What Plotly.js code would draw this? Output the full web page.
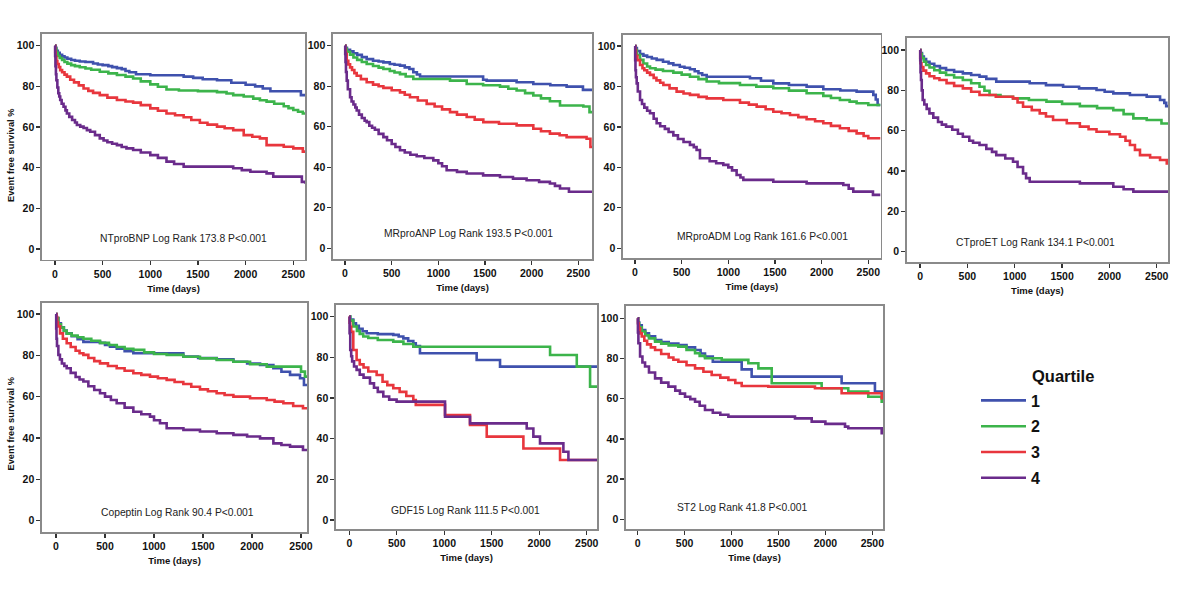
<!DOCTYPE html>
<html><head><meta charset="utf-8">
<script src="https://cdn.plot.ly/plotly-3.0.1.min.js"></script>
<style>html,body{margin:0;padding:0;background:#fff}#chart{width:1200px;height:595px}</style>
</head><body><div id="chart"></div>
<script>
// ---------- data (days, event free survival %) ----------
const markers = ["NTproBNP","MRproANP","MRproADM","CTproET","Copeptin","GDF15","ST2"];
const logRank = ["173.8","193.5","161.6","134.1","90.4","111.5","41.8"];
const pValue = "P<0.001";
const quartiles = ["1","2","3","4"];
const xTicks = [0,500,1000,1500,2000,2500];
const yTicks = [0,20,40,60,80,100];

// NTproBNP
const ntprobnp_q1_t = [0,5,15,30,50,75,100,130,170,210,260,320,400,450,500,560,600,650,700,740,780,850,1000,1350,1450,1550,1700,1850,2000,2100,2180,2260,2580,2630];
const ntprobnp_q1_s = [100,99,97.5,96.5,95.5,94.8,94.2,93.6,93,92.6,92.3,92,91.3,90.8,90.5,90,89.5,89,88.5,87.6,87,86,85.5,84.8,84.2,83.5,83,81.8,80.8,80,79,77.6,75.7,75.7];
const ntprobnp_q2_t = [0,5,15,30,50,75,100,130,170,210,260,320,380,470,560,650,740,820,900,1000,1080,1170,1300,1500,1700,1800,1870,1980,2080,2150,2220,2300,2400,2450,2500,2550,2600,2630];
const ntprobnp_q2_s = [100,98.5,96.5,95,94,93,92,91.2,90.5,90,89.4,88.8,88.2,87.2,86.4,85.6,84.8,83.9,82.5,81,79.8,78.5,78,77.7,77.2,76.5,75.7,75,74,73.2,72.5,71.5,70.2,69.3,68.4,67.5,66.7,66.7];
const ntprobnp_q3_t = [0,3,8,15,25,40,55,75,100,125,160,200,250,300,350,400,470,550,650,740,820,900,1000,1080,1170,1260,1350,1430,1520,1600,1700,1780,1870,1980,2070,2150,2220,2400,2500,2600,2630];
const ntprobnp_q3_s = [100,97,94.5,92.5,91,89.5,88,87,85.8,84.8,83.3,82,80.5,79,77.8,76.8,75.7,74.5,73.3,72.6,72,70.8,69.2,68,66.7,65.8,64.8,63.5,62.1,61.2,60.2,59.4,58.5,56,55.2,54.4,51.1,50.3,49.5,47.9,47.9];
const ntprobnp_q4_t = [0,2,5,10,15,25,35,45,55,70,90,110,125,150,180,210,230,265,300,335,370,420,470,510,550,600,650,700,750,820,900,1000,1080,1170,1250,1350,1870,1960,2050,2220,2290,2590,2630];
const ntprobnp_q4_s = [100,95,90,86,83,79.5,76.6,75,73.3,71.5,70,68.2,66.7,65,63.5,62.2,61,60.2,59.5,58.5,57.7,56,54.4,53.4,52.5,51.8,51.1,50.2,49.5,48.7,47.5,46.2,44.8,43,41.8,40.5,39.7,38.8,38,37.2,35.6,33,32];

// MRproANP
const mrproanp_q1_t = [0,5,20,54,90,130,180,232,300,360,411,480,530,589,640,690,732,770,804,1480,1518,1839,2018,2200,2375,2550,2650];
const mrproanp_q1_s = [100,99,98,97.2,96.3,95.5,94.4,93.4,92.6,92.2,91.8,91,90.6,90.2,89.3,88.5,86.9,85.8,84.8,83.2,82.8,82,81.1,80.5,79.8,78.2,78.2];
const mrproanp_q2_t = [0,5,20,54,90,130,180,232,300,360,411,480,530,589,650,732,1125,1304,1480,1661,1750,1839,1930,2018,2100,2196,2304,2554,2620,2650];
const mrproanp_q2_s = [100,98.5,97,95.6,94.2,93,92,91,90,89.2,88.5,87.5,86.8,86,84.8,83.6,82.8,81.1,80.5,79.8,78.8,77.9,76.6,75.4,74,72.6,70.5,70,67.2,67.2];
const mrproanp_q3_t = [0,3,8,18,35,54,75,100,125,170,232,300,360,411,500,589,640,696,780,875,960,1040,1125,1200,1304,1390,1482,1650,1839,2018,2100,2196,2300,2375,2589,2630,2650];
const mrproanp_q3_s = [100,98,96,92.6,90.8,89.3,88,86.5,85.2,83.5,82,80.8,80,79.2,78,77,75.8,74.6,73,71.3,70,68.6,67.2,66,64.8,63.5,62.3,61.5,60.7,59,57.8,56.6,55.8,54.9,54.1,50,50];
const mrproanp_q4_t = [0,2,5,10,18,30,54,70,90,110,125,150,180,210,232,260,290,320,360,411,450,500,540,589,640,700,768,850,946,1000,1040,1089,1200,1304,1480,1661,1800,1946,2080,2196,2250,2304,2400,2650];
const mrproanp_q4_s = [100,96,92,87,82.8,78.5,74.6,72.5,71,69.5,68,66,64.3,63,62.3,60.5,59.5,58.5,56.5,54.9,53.3,51.5,50,48.4,47.3,46.2,45.4,44.6,43.4,42,40.5,38.5,37.7,36.9,36,35.2,34.4,33.6,32.8,32,30.8,29.5,27.9,27.9];

// MRproADM
const mrproadm_q1_t = [0,5,20,54,90,130,180,232,300,360,411,480,530,589,640,680,720,768,1232,1350,1482,1650,1839,2018,2200,2375,2554,2580,2600,2630];
const mrproadm_q1_s = [100,99,97.5,96,95.2,94.5,93.8,93.1,92.2,91.4,90.6,89.7,89.2,88.5,87.5,86.5,85.6,84.8,84,82.8,81.5,80.7,79.9,78.6,78,77.4,75.8,73.5,70.8,70.8];
const mrproadm_q2_t = [0,5,20,54,90,130,161,220,300,411,500,589,680,768,900,1125,1300,1482,1650,1839,2018,2100,2196,2300,2375,2500,2630];
const mrproadm_q2_s = [100,98,95.5,93.1,91.3,89.8,89,88.3,87.6,86.8,85.8,84.8,83.6,82.4,81.6,80.7,79.9,79.1,77.9,76.6,75.3,74.3,73.3,72.5,71.7,70.8,70.8];
const mrproadm_q3_t = [0,3,10,25,54,80,100,130,161,200,230,270,304,370,446,520,589,680,768,946,1125,1220,1304,1400,1482,1570,1661,1750,1839,1930,2018,2100,2196,2290,2375,2450,2500,2630];
const mrproadm_q3_s = [100,98,95,93,90.6,89,88,86.8,85.7,84.2,83,81.8,80.7,79,77.4,76.5,75.8,74.8,74.1,73.3,72,71,70,68.7,67.5,66.7,65.9,64.8,63.8,62.8,61.8,60.5,59.3,58,56.8,55.5,54.4,54.4];
const mrproadm_q4_t = [0,2,5,10,18,30,54,75,100,130,161,200,232,270,320,360,411,460,520,589,630,660,696,800,870,946,1000,1040,1089,1130,1161,1482,1839,2232,2290,2339,2550,2630];
const mrproadm_q4_s = [100,93,88,84.5,81.5,77.5,73.3,71.3,69.5,68,66.7,64,61.8,60.3,59,57.5,55.8,54,52.5,51.1,50,48.6,44.5,43,42,41.2,40,38.5,36.2,35,33.8,32.9,32.1,31.3,29.5,28,26.4,26.4];

// CTproET
const ctproet_q1_t = [0,5,20,40,64,100,150,210,275,360,452,540,628,700,805,1158,1330,1511,1680,1864,1950,2041,2217,2394,2535,2580,2600,2630];
const ctproet_q1_s = [100,98.5,96.8,95.5,94.2,93.2,92,91,90.1,89.2,88.4,87.6,86.8,85.7,84.3,83.5,82.6,81.8,81,80.2,79.3,78.5,77.7,76.9,75.2,73.8,72.2,72.2];
const ctproet_q2_t = [0,5,20,40,64,100,150,210,275,360,452,540,628,680,734,850,982,1150,1335,1500,1688,1870,2041,2150,2253,2394,2550,2630];
const ctproet_q2_s = [100,98,96,94.2,92.6,91.3,90,88.8,87.6,86.4,85.1,83.5,81.8,79.8,77.7,76.8,76,75.2,74.4,73.3,72.2,71.2,70.2,68.2,66.1,65.3,63.6,63.6];
const ctproet_q3_t = [0,2,5,15,35,64,100,150,205,280,360,452,540,628,800,982,1030,1088,1180,1264,1330,1405,1550,1688,1780,1864,2000,2112,2170,2217,2270,2323,2430,2535,2606,2630];
const ctproet_q3_s = [100,96,93.4,91.5,89.8,88.4,87,86,85.1,83.6,82.2,81,79.3,77.7,76.8,76,74,71.9,70.2,68.6,67,65.3,63.7,62,60.7,59.5,58.2,57,55,52.9,50.5,47.9,46.7,45.5,43.8,43.8];
const ctproet_q4_t = [0,2,5,10,18,28,45,70,99,140,190,230,275,340,400,452,520,560,628,700,760,805,900,982,1030,1088,1120,1158,1688,2041,2150,2253,2630];
const ctproet_q4_s = [100,95,89,85.1,80,75.2,73,70.8,68.6,66.5,64.3,63,62,60.5,58.5,57,55,54,52.9,51,49.5,47.9,46.2,44.6,42,38.8,36.5,34.7,33.9,32.2,31,29.8,29.8];

// Copeptin
const copeptin_q1_t = [0,5,24,50,80,109,160,220,279,449,500,551,620,700,789,1299,1450,1639,1810,1950,2082,2218,2300,2388,2490,2530,2630];
const copeptin_q1_s = [100,98,95.5,93.5,92,90.6,89.2,87.8,86.5,86,85,84.2,83.2,82,81,79.4,78.7,78.1,76.9,76,75.3,73.7,72,70.5,68.9,65.6,65.6];
const copeptin_q2_t = [0,5,24,50,80,109,160,220,279,360,449,540,620,700,789,900,1000,1129,1300,1469,1640,1810,1980,2150,2450,2500,2540,2630];
const copeptin_q2_s = [100,98,95,93.4,91.8,90.5,89.5,88.7,88,87,86,85,84,83.2,82.6,81.4,80.6,80.2,79.3,78.5,77.7,76.9,75.7,74.5,74.5,72.1,69.7,69.7];
const copeptin_q3_t = [0,5,12,20,41,70,109,150,200,240,279,330,390,449,530,619,700,789,870,959,1040,1129,1210,1299,1380,1469,1550,1639,1720,1810,1980,2150,2230,2320,2420,2520,2630];
const copeptin_q3_s = [100,98.5,96,94,90.6,88,85.8,84,82.2,81,80.2,78.7,77.2,76.1,74.8,73.7,72.5,71.3,70.5,69.7,68.9,68.1,67.1,66.1,64.8,63.5,62.6,61.6,60.8,60,59.2,58.4,57.6,56.8,55.5,54.4,54.4];
const copeptin_q4_t = [0,2,5,10,24,40,60,85,109,150,200,240,279,330,390,449,500,560,619,700,789,870,959,1000,1061,1129,1300,1469,1640,1810,1950,2082,2218,2300,2388,2520,2630];
const copeptin_q4_s = [100,93,88,84.5,80.2,78,76,74.8,73.7,71.5,69.5,68.3,67.3,65,63.2,61.6,60,58.4,56.8,54.7,52.7,51.5,50.3,48.6,47.1,44.7,43.9,43.1,42.3,41.5,40.7,39.8,37.4,36.6,35.8,34.2,34.2];

// GDF15
const gdf15_q1_t = [0,10,42,70,100,140,183,300,463,520,569,620,674,700,744,1341,1587,2630];
const gdf15_q1_s = [100,98.5,96.7,95.5,94,92.8,91.8,91.4,91,90.2,89.3,88,86.9,85.5,82,78.7,75.4,75.4];
const gdf15_q2_t = [0,10,42,80,110,147,200,300,463,570,674,2114,2395,2535,2630];
const gdf15_q2_s = [100,98,95.1,93,91.5,90.2,89.5,88.5,87.7,86.5,85.2,81.1,75.4,65.6,65.6];
const gdf15_q3_t = [0,3,10,20,42,77,110,150,200,288,350,400,463,530,600,674,700,1008,1271,1447,1833,2219,2630];
const gdf15_q3_s = [100,97,95,92.5,83.6,78.7,76.5,75,73,71.3,68,66.3,64.8,63,61,59,56.6,51.6,46.7,41,35.2,29.5,29.5];
const gdf15_q4_t = [0,3,10,20,30,50,77,110,150,218,260,300,358,420,498,1008,1271,1868,1938,2008,2254,2307,2630];
const gdf15_q4_s = [100,91.8,83.6,80.5,78,75.5,73.8,71.5,70,67.2,65,63,60.7,59.2,58.2,50.8,47.5,45,41,37.7,33.6,29.5,29.5];

// ST2
const st2_q1_t = [0,5,15,43,80,120,185,250,330,433,520,611,670,717,800,1108,1214,2173,2528,2630];
const st2_q1_s = [100,98,96.5,94.2,92.5,91,89.2,88.2,87.4,86.7,85.5,84.2,82.5,80.9,78.4,74.6,71,67.7,63.5,63.5];
const st2_q2_t = [0,5,15,43,80,120,185,250,330,433,520,611,660,717,895,1179,1286,1428,1960,2244,2457,2600,2630];
const st2_q2_s = [100,97.5,95.5,93.4,91.5,90,88.4,87.4,86.5,85.9,84.2,82.6,81.3,80.1,79.3,77.6,75.1,67.7,65.2,63.5,61,58.5,58.5];
const st2_q3_t = [0,3,10,25,43,70,100,140,185,250,330,380,433,520,611,700,788,880,966,1040,1108,1392,1889,2173,2600,2630];
const st2_q3_s = [100,97.5,95,92.5,90.9,88.8,87,85.5,84.2,82.2,80.5,79.4,78.4,76.6,75.1,73.4,71.8,70.5,69.3,67.8,66.3,66,65.2,62.7,60.2,60.2];
const st2_q4_t = [0,2,7,25,50,78,120,185,250,327,400,450,504,560,611,660,717,800,880,966,1676,1854,2000,2209,2244,2600,2630];
const st2_q4_s = [100,93,87.6,81,78,76,73,70.1,68,66,64,62.5,61,59.8,58.5,56.5,54.4,53,52,51.1,50.2,48.6,47.5,46.1,45.3,42.8,42.8];

const curves = [
  [[ntprobnp_q1_t,ntprobnp_q1_s],[ntprobnp_q2_t,ntprobnp_q2_s],[ntprobnp_q3_t,ntprobnp_q3_s],[ntprobnp_q4_t,ntprobnp_q4_s]],
  [[mrproanp_q1_t,mrproanp_q1_s],[mrproanp_q2_t,mrproanp_q2_s],[mrproanp_q3_t,mrproanp_q3_s],[mrproanp_q4_t,mrproanp_q4_s]],
  [[mrproadm_q1_t,mrproadm_q1_s],[mrproadm_q2_t,mrproadm_q2_s],[mrproadm_q3_t,mrproadm_q3_s],[mrproadm_q4_t,mrproadm_q4_s]],
  [[ctproet_q1_t,ctproet_q1_s],[ctproet_q2_t,ctproet_q2_s],[ctproet_q3_t,ctproet_q3_s],[ctproet_q4_t,ctproet_q4_s]],
  [[copeptin_q1_t,copeptin_q1_s],[copeptin_q2_t,copeptin_q2_s],[copeptin_q3_t,copeptin_q3_s],[copeptin_q4_t,copeptin_q4_s]],
  [[gdf15_q1_t,gdf15_q1_s],[gdf15_q2_t,gdf15_q2_s],[gdf15_q3_t,gdf15_q3_s],[gdf15_q4_t,gdf15_q4_s]],
  [[st2_q1_t,st2_q1_s],[st2_q2_t,st2_q2_s],[st2_q3_t,st2_q3_s],[st2_q4_t,st2_q4_s]]
];

// ---------- styling / layout ----------
const W = 1200, H = 595;
const colors = ["#3f51ad","#3cb44b","#e8363d","#6a2b8b"];
const FONT = "Liberation Sans, Arial, sans-serif";
// panel boxes in pixels: left, right, top, bottom, x range, y range, label centre
const panels = [
  {L:42, R:305, T:34, B:259.5, xr:[-136,2623], yr:[-5.2,105.8], lab:[183,238]},
  {L:333, R:592, T:34, B:259, xr:[-129,2647], yr:[-5.3,105.8], lab:[468,234]},
  {L:623, R:880.7, T:35, B:258, xr:[-128.6,2633], yr:[-4.8,105.4], lab:[762,237]},
  {L:906.7, R:1168, T:37.5, B:262, xr:[-141,2619], yr:[-5.1,106.2], lab:[1035,242]},
  {L:42, R:307, T:303, B:532, xr:[-143,2561], yr:[-5.5,105.3], lab:[177,512]},
  {L:336, R:597, T:305, B:529, xr:[-140,2608], yr:[-4.4,105.7], lab:[465,511]},
  {L:626, R:883, T:306, B:529, xr:[-125,2614], yr:[-4.8,106.1], lab:[742,507]}
];

const traces = [];
const layout = {
  width: W, height: H,
  margin: {l:0, r:0, t:0, b:0},
  paper_bgcolor: "#fff", plot_bgcolor: "#fff",
  font: {family: FONT, color: "#111"},
  showlegend: true,
  legend: {
    x: 976/W, xanchor: "left", y: 1 - 383.5/H, yanchor: "top",
    font: {family: FONT, size: 16, color: "#111", weight: "bold"},
    traceorder: "grouped", tracegroupgap: 2, bgcolor: "rgba(0,0,0,0)", borderwidth: 0,
    itemwidth: 45
  },
  annotations: [],
  shapes: []
};

panels.forEach((p, i) => {
  const n = i + 1;
  const xa = "xaxis" + (n === 1 ? "" : n), ya = "yaxis" + (n === 1 ? "" : n);
  const xid = "x" + (n === 1 ? "" : n), yid = "y" + (n === 1 ? "" : n);
  layout[xa] = {
    domain: [p.L / W, p.R / W], range: p.xr, anchor: yid,
    showgrid: false, zeroline: false,
    showline: true, mirror: true, linecolor: "#8a8a8a", linewidth: 1.6,
    ticks: "outside", ticklen: 4, tickwidth: 1.3, tickcolor: "#333",
    tickvals: xTicks, ticktext: xTicks.map(String),
    tickfont: {family: FONT, size: 10.5, color: "#111", weight: "bold"},
    title: {text: "Time (days)", font: {family: FONT, size: 9.5, color: "#111", weight: "bold"}, standoff: 6},
    fixedrange: true
  };
  layout[ya] = {
    domain: [1 - p.B / H, 1 - p.T / H], range: p.yr, anchor: xid,
    showgrid: false, zeroline: false,
    showline: true, mirror: true, linecolor: "#8a8a8a", linewidth: 1.6,
    ticks: "outside", ticklen: 4, tickwidth: 1.3, tickcolor: "#333",
    tickvals: yTicks, ticktext: yTicks.map(String),
    tickfont: {family: FONT, size: 10.5, color: "#111", weight: "bold"},
    fixedrange: true
  };
  curves[i].forEach((c, q) => {
    traces.push({
      type: "scatter", mode: "lines", x: c[0], y: c[1],
      xaxis: xid, yaxis: yid,
      line: {shape: "hv", color: colors[q], width: 2.6},
      name: quartiles[q], legendgroup: "q" + quartiles[q],
      showlegend: i === 0, hoverinfo: "skip"
    });
  });
  layout.annotations.push({
    xref: "paper", yref: "paper", x: p.lab[0] / W, y: 1 - p.lab[1] / H,
    xanchor: "center", yanchor: "middle", showarrow: false,
    text: markers[i] + " Log Rank " + logRank[i] + " " + pValue.replace("<", "&lt;"),
    font: {family: FONT, size: 10.3, color: "#222"}
  });
});

// y axis titles
[[11, 155], [10.5, 424]].forEach(pos => {
  layout.annotations.push({
    xref: "paper", yref: "paper", x: pos[0] / W, y: 1 - pos[1] / H,
    xanchor: "center", yanchor: "middle", showarrow: false, textangle: -90,
    text: "Event free survival %",
    font: {family: FONT, size: 9.3, color: "#111", weight: "bold"}
  });
});
// legend heading
layout.annotations.push({
  xref: "paper", yref: "paper", x: 1030 / W, y: 1 - 376 / H,
  xanchor: "left", yanchor: "middle", showarrow: false,
  text: "<b>Quartile</b>", font: {family: FONT, size: 16.5, color: "#111"}
});

Plotly.newPlot("chart", traces, layout, {staticPlot: true, displayModeBar: false});
</script></body></html>
